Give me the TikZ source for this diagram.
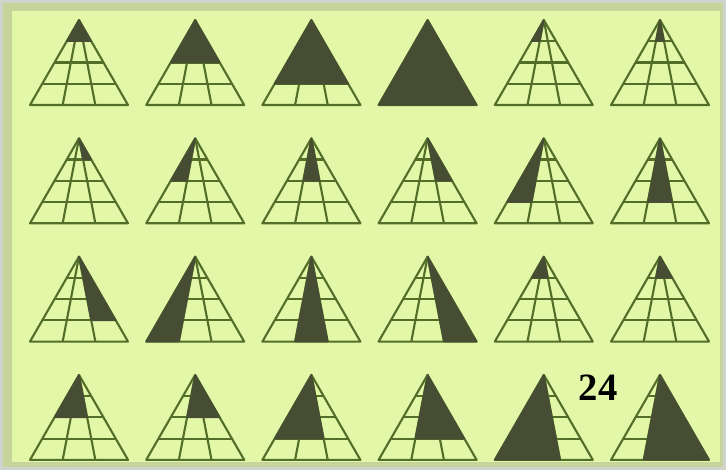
\documentclass[tikz,border=0pt]{standalone}
\usepackage{fontspec}
\setmainfont{Liberation Serif}

\definecolor{paper}{RGB}{227,247,169}
\definecolor{frame}{RGB}{198,212,156}
\definecolor{edge}{RGB}{208,210,204}
\definecolor{gridline}{RGB}{82,110,40}
\definecolor{shade}{RGB}{70,77,50}

\tikzset{
  grid line/.style={draw=gridline, line width=1.2pt, line join=round},
  dark part/.style={fill=shade, draw=shade, line width=0.8pt, line join=round}
}

% pyramid at apex (#1,#2), shaded between lines #3 and #4 down to level #5
\newcommand{\pyramid}[5]{%
  \begin{scope}[shift={(#1,#2)}]
    \draw[grid line] (0,0) -- (-49,85) -- (49,85) -- cycle;
    \foreach \j in {1,2}
      \draw[grid line] (0,0) -- ({-49+\j*98/3},85);
    \foreach \k in {1,2,3}
      \draw[grid line] ({-49*\k/4},{85*\k/4}) -- ({49*\k/4},{85*\k/4});
    \path[dark part] (0,0) -- ({(-49+#3*98/3)*#5/4},{85*#5/4})
      -- ({(-49+#4*98/3)*#5/4},{85*#5/4}) -- cycle;
  \end{scope}}

\begin{document}
\begin{tikzpicture}[x=0.02cm, y=-0.02cm]
  \useasboundingbox (0,0) rectangle (726,470);
  \fill[edge] (0,0) rectangle (726,470);
  \fill[frame] (3,3) rectangle (723,467);
  \fill[paper] (12,11) rectangle (720,462);

  \foreach \c/\r/\a/\b/\k in {0/0/0/3/1, 1/0/0/3/2, 2/0/0/3/3, 3/0/0/3/4, 4/0/0/1/1, 5/0/1/2/1,
      0/1/2/3/1, 1/1/0/1/2, 2/1/1/2/2, 3/1/2/3/2, 4/1/0/1/3, 5/1/1/2/3,
      0/2/2/3/3, 1/2/0/1/4, 2/2/1/2/4, 3/2/2/3/4, 4/2/0/2/1, 5/2/1/3/1,
      0/3/0/2/2, 1/3/1/3/2, 2/3/0/2/3, 3/3/1/3/3, 4/3/0/2/4, 5/3/1/3/4}
    \pyramid{79+116.2*\c}{20+118.3*\r}{\a}{\b}{\k};

  \node[font=\fontsize{22}{22}\selectfont\bfseries] (count) at (598,388) {24};
\end{tikzpicture}
\end{document}
